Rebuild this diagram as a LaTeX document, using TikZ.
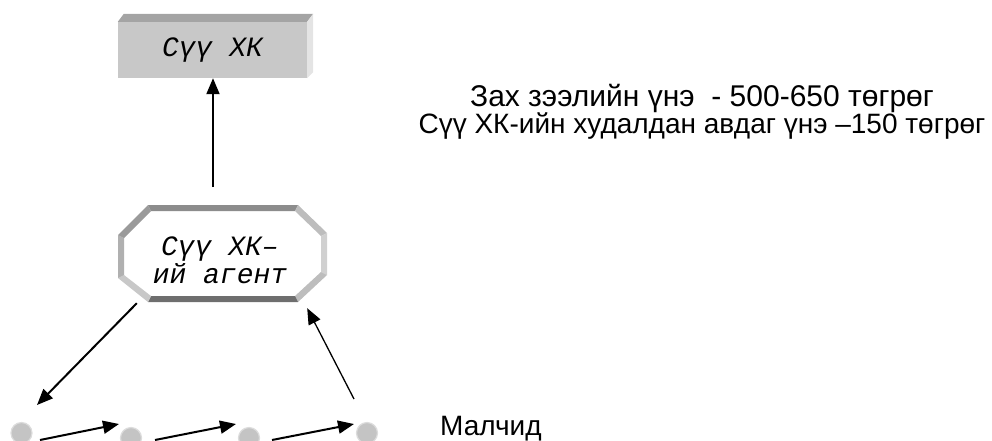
\documentclass[tikz,border=0pt]{standalone}
\usepackage{fontspec}
\setmainfont{Liberation Sans}
\newfontfamily\courfont{Liberation Mono}
\usetikzlibrary{arrows.meta,calc}
\definecolor{frontgray}{HTML}{C8C8C8}
\definecolor{topgray}{HTML}{A4A4A4}
\definecolor{sidegray}{HTML}{E4E4E4}
\definecolor{bandT}{HTML}{8C8C8C}
\definecolor{bandTR}{HTML}{BDBDBD}
\definecolor{bandR}{HTML}{D0D0D0}
\definecolor{bandBR}{HTML}{BDBDBD}
\definecolor{bandB}{HTML}{6E6E6E}
\definecolor{bandBL}{HTML}{C8C8C8}
\definecolor{bandL}{HTML}{B0B0B0}
\definecolor{bandTL}{HTML}{9A9A9A}
\definecolor{dotgray}{HTML}{C4C4C4}
\definecolor{dotrim}{HTML}{DCDCDC}
\begin{document}
\begin{tikzpicture}[x=1pt,y=-1pt,
  arr/.style={line width=2pt,-{Triangle[length=16pt,width=13pt]}},
  thinarr/.style={line width=1.3pt,-{Triangle[length=16pt,width=13pt]}},
  dot/.style={circle,minimum size=21pt,inner sep=0pt,fill=dotgray,draw=dotrim,line width=1.2pt},
  monotext/.style={font={\courfont\itshape\fontsize{28}{27}\selectfont},inner sep=0pt},
  sanstext/.style={font={\fontsize{28}{24}\selectfont},inner sep=0pt}]
\useasboundingbox (0,0) rectangle (992,440);

% top box
\node[monotext,fill=frontgray,minimum width=189pt,minimum height=56pt] (xk) at (212.5,50) {Сүү ХК};
\fill[topgray] (xk.north west) -- ++(6,-8) -- ($(xk.north east)+(6,-8)$) -- (xk.north east) -- cycle;
\fill[sidegray] (xk.north east) -- ++(6,-8) -- ($(xk.south east)+(6,-6)$) -- (xk.south east) -- cycle;

% octagon bevel
\fill[white] (148,205) -- (298,205) -- (327,233) -- (327,275) -- (298,302) -- (148,302) -- (118,278) -- (118,235) -- cycle;
\fill[bandT]  (148,205) -- (298,205) -- (295,211) -- (151,211) -- cycle;
\fill[bandTR] (298,205) -- (327,233) -- (321,236) -- (295,211) -- cycle;
\fill[bandR]  (327,233) -- (327,275) -- (321,272) -- (321,236) -- cycle;
\fill[bandBR] (327,275) -- (298,302) -- (295,296) -- (321,272) -- cycle;
\fill[bandB]  (298,302) -- (148,302) -- (151,296) -- (295,296) -- cycle;
\fill[bandBL] (148,302) -- (118,278) -- (124,275) -- (151,296) -- cycle;
\fill[bandL]  (118,278) -- (118,235) -- (124,238) -- (124,275) -- cycle;
\fill[bandTL] (118,235) -- (148,205) -- (151,211) -- (124,238) -- cycle;
\node[minimum width=209pt,minimum height=97pt,inner sep=0pt] (oct) at (222.5,253.5) {};
\node[monotext,anchor=base] (agent) at (220,255)
  {\begin{tabular}[t]{@{}c@{}}Сүү ХК–\\ий агент\end{tabular}};

% price text
\node[sanstext,anchor=base] (prices) at (702,106)
  {\begin{tabular}[t]{@{}c@{}}{\fontsize{30}{24}\selectfont Зах зээлийн үнэ \ - 500-650 төгрөг}\\Сүү ХК-ийн худалдан авдаг үнэ –150 төгрөг\end{tabular}};

% herders
\node[dot] (c1) at (21.5,433) {};
\node[dot] (c2) at (131,438) {};
\node[dot] (c3) at (249,438) {};
\node[dot] (c4) at (367,433) {};
\node[sanstext,anchor=base west] (malchid) at (440,435) {Малчид};

% connectors
\coordinate (upstart) at (213,187);
\draw[arr] (upstart) -- (upstart |- xk.south);
\draw[arr] ($(oct.south west)+(19,1)$) -- ($(c1)+(15.5,-28)$);
\draw[thinarr] ($(c4)+(-13,-34)$) -- ($(oct.south east)+(-20,6)$);
\draw[arr] ($(c1)+(18.5,7)$) -- ($(c2)+(-12,-14)$);
\draw[arr] ($(c2)+(24,2)$) -- ($(c3)+(-13,-14)$);
\draw[arr] ($(c3)+(23,2)$) -- ($(c4)+(-13,-9)$);
\end{tikzpicture}
\end{document}
